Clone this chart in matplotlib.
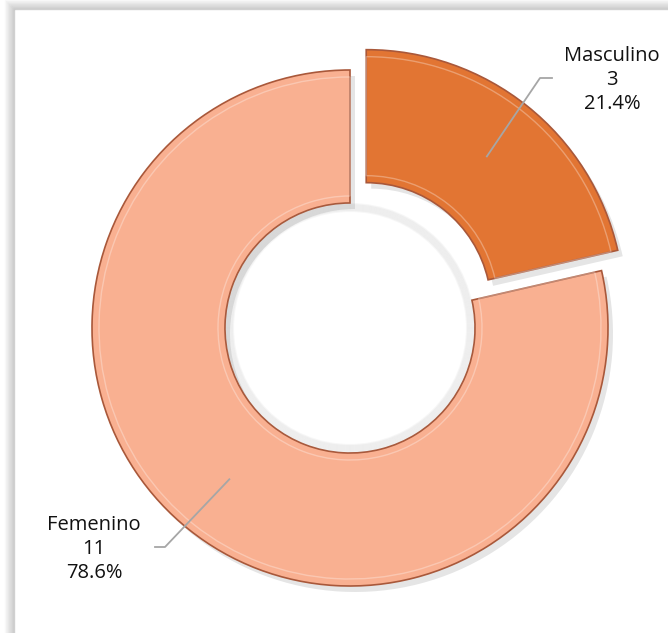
import numpy as np
import matplotlib.pyplot as plt

labels = ['Masculino', 'Femenino']
counts = [3, 11]
colors = ['#E27533', '#F9B091']

W, H = 668, 633
fig = plt.figure(figsize=(W / 100, H / 100), dpi=100)
ax = fig.add_axes([0, 0, 1, 1])

cx, cy, R = 350, H - 328, 258
ring = 133
total = sum(counts)
explode = [26, 0]   # pie explode is in data units here


def fix_axes():
    ax.set_xlim(0, W)
    ax.set_ylim(0, H)
    ax.set_aspect('equal')
    ax.axis('off')


# frame with soft shadow on left/top
for i in range(10):
    a = 0.06 + 0.05 * i
    ax.plot([5 + i, 5 + i], [0, H - i], color='#606060', alpha=a * 0.5, lw=1, solid_capstyle='butt')
    ax.plot([5 + i, W], [H - i, H - i], color='#606060', alpha=a * 0.5, lw=1, solid_capstyle='butt')

# soft shadow under the donut
ax.pie(counts, radius=R, center=(cx + 5, cy - 6), startangle=90, counterclock=False,
       explode=explode, colors=['#000000'] * 2, frame=True,
       wedgeprops=dict(width=ring, alpha=0.10, linewidth=0))

wedges, _ = ax.pie(counts, radius=R, center=(cx, cy), startangle=90, counterclock=False,
                   explode=explode, colors=colors, frame=True,
                   wedgeprops=dict(width=ring, edgecolor='#A9583A', linewidth=1.2))

# bevel highlight (inner lighter outline)
ax.pie(counts, radius=R - 7, center=(cx, cy), startangle=90, counterclock=False,
       explode=explode, colors=['none'] * 2, frame=True,
       wedgeprops=dict(width=ring - 14, edgecolor='#FFFFFF', linewidth=1.0, alpha=0.3))
fix_axes()

# inner hole shading
for k in range(8):
    c = plt.Circle((cx, cy), R - ring - 1 - k, fill=False, color='#9a9a9a', alpha=0.08, lw=1.5)
    ax.add_patch(c)

label_pos = {'Masculino': ((540, 78), (552, 78), (612, 80)),
             'Femenino': ((165, 547), (155, 547), (94, 549))}

for w, lab, n in zip(wedges, labels, counts):
    ang = np.deg2rad((w.theta1 + w.theta2) / 2)
    ox, oy = w.center
    px = ox + 0.75 * R * np.cos(ang)
    py = oy + 0.75 * R * np.sin(ang)
    elbow, end, txt = label_pos[lab]
    ax.plot([px, elbow[0], end[0]], [py, H - elbow[1], H - end[1]], color='#A6A6A6', lw=1.3)
    ax.text(txt[0], H - txt[1], f'{lab}\n{n}\n{n / total * 100:.1f}%', ha='center', va='center',
            fontsize=14.5, family='Open Sans', color='#111111', linespacing=1.25)

fig.savefig('out.png', dpi=100)
